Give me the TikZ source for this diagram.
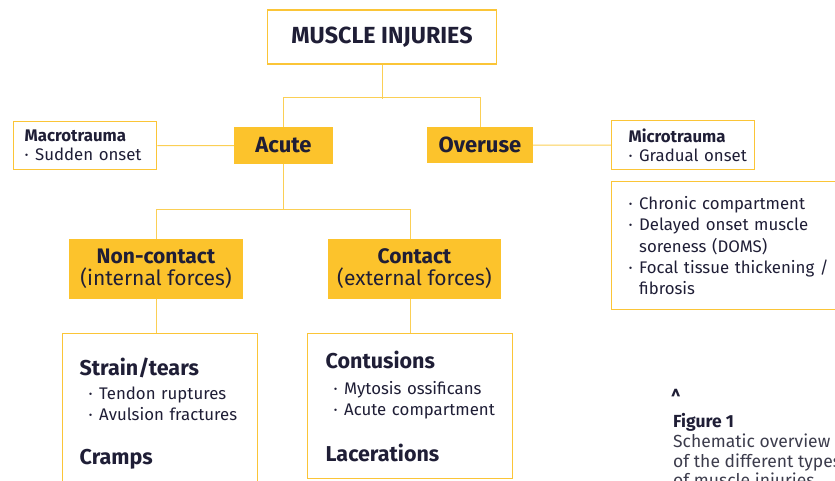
\documentclass[tikz,border=0pt]{standalone}
\usepackage{fontspec}
\setmainfont{Fira Sans}
\usetikzlibrary{positioning}

\definecolor{injyellow}{HTML}{FCC32C}
\definecolor{injedge}{HTML}{FBC537}
\definecolor{injlink}{HTML}{FBCF55}
\definecolor{injtext}{HTML}{1F1E36}
\definecolor{injgrey}{HTML}{3C3C4C}

\newcommand{\dotitem}{\makebox[10.5pt][l]{·}}
\newcommand{\dotgap}{\hspace*{10.5pt}}
\newcommand{\listhead}[1]{{\bfseries\fontsize{21.5}{24}\selectfont #1}}

\tikzset{
  every node/.style={text=injtext},
  titlebox/.style={draw=injedge, line width=1.6pt, minimum width=229pt,
    minimum height=54pt, inner sep=0pt,
    font=\bfseries\fontsize{23.3}{26}\selectfont},
  typebox/.style={fill=injyellow, inner sep=0pt,
    font=\bfseries\fontsize{22}{24}\selectfont},
  forcebox/.style={fill=injyellow, inner sep=0pt, align=center,
    minimum width=174pt, minimum height=60pt,
    font=\fontsize{21}{22}\selectfont},
  notebox/.style={draw=injedge, line width=1.3pt, anchor=north west,
    align=left, inner ysep=0pt, font=\fontsize{16.8}{19}\selectfont},
  listbox/.style={draw=injedge, line width=1.3pt, anchor=north west,
    align=left, font=\fontsize{16.8}{21.4}\selectfont},
  branch/.style={draw=injlink, line width=1pt},
}

\begin{document}
\begin{tikzpicture}[x=1pt,y=-1pt]
\useasboundingbox (0,0) rectangle (835,480);
\clip (0,0) rectangle (835,480);
% top of the tree
\node[titlebox] (injuries) at (382,37) {MUSCLE INJURIES};
\node[typebox, minimum width=99pt, minimum height=37pt] (acute) at (283.5,145.5) {Acute};
\node[typebox, minimum width=106pt, minimum height=36pt] (overuse) at (480,145) {Overuse};
% side notes
\node[notebox, minimum width=143pt, minimum height=48pt, inner xsep=11pt,
  text width=121pt] (macro) at (13,121)
  {\textbf{Macrotrauma}\\\dotitem Sudden onset};
\node[notebox, minimum width=143pt, minimum height=49pt, inner xsep=3pt,
  text width=137pt] (micro) at (611,120)
  {\hspace*{14pt}\textbf{Microtrauma}\\\hspace*{14pt}\dotitem Gradual onset};
\node[listbox, minimum height=128pt, inner xsep=17pt, inner ysep=14pt,
  text width=230pt] (overlist) at (611,181)
  {\dotitem Chronic compartment\\
   \dotitem Delayed onset muscle\\
   \dotgap soreness (DOMS)\\
   \dotitem Focal tissue thickening /\\
   \dotgap fibrosis};
% forces
\node[forcebox] (noncontact) at (156,269) {\textbf{Non-contact}\\(internal forces)};
\node[forcebox, minimum width=173pt] (contact) at (414.5,269) {\textbf{Contact}\\(external forces)};
% lists of injuries
\node[listbox, minimum width=195pt, inner xsep=8pt, inner ysep=24pt,
  text width=179pt] (strain) at (62,333)
  {\hspace*{9pt}\listhead{Strain/tears}\\[2.5pt]
   \hspace*{18pt}\dotitem Tendon ruptures\\
   \hspace*{18pt}\dotitem Avulsion fractures\\[23pt]
   \hspace*{9pt}\listhead{Cramps}\\[40pt]};
\node[listbox, minimum width=205pt, inner xsep=8pt, inner ysep=17pt,
  text width=189pt] (contusions) at (307,333)
  {\hspace*{10pt}\listhead{Contusions}\\[5pt]
   \hspace*{18pt}\dotitem Mytosis ossificans\\
   \hspace*{18pt}\dotitem Acute compartment\\[24pt]
   \hspace*{10pt}\listhead{Lacerations}\\[40pt]};
% caption
\node[anchor=north west, inner sep=0pt, font=\bfseries\fontsize{24}{26}\selectfont]
  (caret) at (671,389) {\scalebox{0.7}[1]{\textasciicircum}};
\node[anchor=north west, align=left, inner sep=0pt, font=\fontsize{17.5}{19.8}\selectfont]
  (caption) at (673,413)
  {\textbf{Figure 1}\\\textcolor{injgrey}{Schematic overview}\\
   \textcolor{injgrey}{of the different types}\\
   \textcolor{injgrey}{of muscle injuries}};
% connectors
\draw[branch] (injuries.south) -- ++(0,34);
\draw[branch] (acute.north) -- ++(0,-29) -| (overuse.north);
\draw[branch] (macro.east) -- (acute.west);
\draw[branch] (overuse.east) -- (micro.west);
\draw[branch] (acute.south) -- ++(0,46);
\draw[branch] (noncontact.north) -- ++(0,-29) -| (contusions.north |- contact.north);
\draw[branch] (noncontact.south) -- (noncontact.south |- strain.north);
\draw[branch] (contusions.north |- contact.south) -- (contusions.north);
\end{tikzpicture}
\end{document}
